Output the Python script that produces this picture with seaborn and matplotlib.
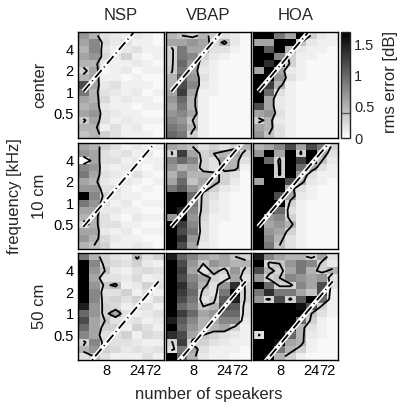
import numpy as np
import seaborn as sns
import matplotlib
matplotlib.use("Agg")
import matplotlib.pyplot as plt

# rms error [dB], rows from top (6.3 kHz) to bottom (250 Hz), columns = speaker setups
nsp_center = np.array([
    [0.7, 0.5, 0.2, 0.15, 0.1, 0.15, 0.1, 0.05],
    [0.6, 0.8, 0.25, 0.15, 0.2, 0.1, 0.1, 0.05],
    [0.5, 0.8, 0.2, 0.1, 0.15, 0.2, 0.1, 0.1],
    [0.6, 0.7, 0.25, 0.15, 0.3, 0.1, 0.05, 0.1],
    [0.5, 0.5, 0.15, 0.1, 0.1, 0.15, 0.1, 0.05],
    [0.3, 0.6, 0.05, 0.1, 0.15, 0.05, 0.1, 0.1],
    [0.5, 0.6, 0.1, 0.1, 0.05, 0.1, 0.05, 0.05],
    [1.2, 0.6, 0.15, 0.2, 0.1, 0.1, 0.1, 0.05],
    [0.9, 0.5, 0.2, 0.15, 0.1, 0.15, 0.05, 0.1],
    [0.6, 0.5, 0.25, 0.1, 0.15, 0.1, 0.1, 0.05],
    [0.5, 0.6, 0.15, 0.1, 0.1, 0.05, 0.1, 0.1],
    [0.6, 0.7, 0.2, 0.15, 0.1, 0.1, 0.05, 0.05],
    [0.35, 0.6, 0.2, 0.1, 0.15, 0.1, 0.1, 0.1],
    [0.5, 0.5, 0.1, 0.2, 0.1, 0.15, 0.05, 0.05],
    [0.4, 0.5, 0.3, 0.2, 0.1, 0.1, 0.1, 0.05],
])
vbap_center = np.array([
    [0.5, 0.4, 0.3, 0.5, 0.3, 0.2, 0.15, 0.05],
    [0.6, 0.6, 0.7, 0.6, 0.25, 0.46, 0.15, 0.05],
    [0.3, 0.9, 0.6, 0.6, 0.2, 0.2, 0.1, 0.05],
    [0.3, 0.9, 0.8, 0.3, 0.15, 0.1, 0.05, 0.05],
    [0.3, 1.0, 0.7, 0.2, 0.1, 0.05, 0.05, 0.05],
    [0.35, 0.9, 0.6, 0.15, 0.1, 0.05, 0.05, 0.05],
    [0.5, 1.1, 0.7, 0.2, 0.1, 0.05, 0.05, 0.05],
    [0.5, 1.2, 0.8, 0.15, 0.1, 0.05, 0.05, 0.05],
    [0.6, 1.3, 0.6, 0.1, 0.1, 0.05, 0.05, 0.05],
    [0.7, 1.0, 0.5, 0.1, 0.05, 0.05, 0.05, 0.05],
    [0.6, 0.9, 0.5, 0.1, 0.05, 0.05, 0.05, 0.05],
    [0.7, 0.8, 0.6, 0.1, 0.05, 0.05, 0.05, 0.05],
    [0.8, 0.7, 0.4, 0.1, 0.05, 0.05, 0.05, 0.05],
    [0.9, 0.8, 0.5, 0.1, 0.05, 0.05, 0.05, 0.05],
    [1.0, 0.9, 0.3, 0.1, 0.05, 0.05, 0.05, 0.05],
])
hoa_center = np.array([
    [1.7, 1.7, 0.9, 0.6, 1.7, 0.3, 0.15, 0.1],
    [0.6, 0.6, 1.7, 1.7, 0.4, 0.15, 0.1, 0.1],
    [1.7, 1.1, 1.7, 0.5, 0.15, 0.1, 0.1, 0.05],
    [1.7, 1.7, 0.8, 0.3, 0.1, 0.1, 0.05, 0.05],
    [1.7, 1.4, 1.7, 0.3, 0.1, 0.05, 0.05, 0.05],
    [0.6, 1.7, 0.6, 0.15, 0.1, 0.05, 0.05, 0.05],
    [1.7, 1.7, 0.7, 0.2, 0.1, 0.05, 0.05, 0.05],
    [1.7, 1.3, 0.5, 0.1, 0.05, 0.05, 0.05, 0.05],
    [1.7, 1.0, 0.2, 0.1, 0.05, 0.05, 0.05, 0.05],
    [1.7, 0.6, 0.15, 0.1, 0.05, 0.05, 0.05, 0.05],
    [1.2, 0.6, 0.15, 0.1, 0.05, 0.05, 0.05, 0.05],
    [0.6, 0.7, 0.2, 0.1, 0.05, 0.05, 0.05, 0.05],
    [0.3, 0.5, 0.15, 0.1, 0.05, 0.05, 0.05, 0.05],
    [0.6, 0.5, 0.2, 0.1, 0.05, 0.05, 0.05, 0.05],
    [0.7, 0.4, 0.2, 0.1, 0.05, 0.05, 0.05, 0.05],
])
nsp_10cm = np.array([
    [0.6, 0.5, 0.3, 0.2, 0.1, 0.15, 0.1, 0.1],
    [0.7, 0.6, 0.2, 0.15, 0.2, 0.1, 0.15, 0.05],
    [0.0, 0.6, 0.2, 0.2, 0.1, 0.15, 0.1, 0.1],
    [0.8, 0.7, 0.15, 0.1, 0.15, 0.1, 0.05, 0.1],
    [0.9, 0.6, 0.2, 0.15, 0.1, 0.2, 0.1, 0.05],
    [0.6, 0.5, 0.15, 0.1, 0.15, 0.1, 0.05, 0.1],
    [0.7, 0.7, 0.2, 0.2, 0.1, 0.05, 0.1, 0.05],
    [1.7, 0.8, 0.3, 0.15, 0.1, 0.1, 0.05, 0.05],
    [0.9, 0.7, 0.2, 0.1, 0.15, 0.05, 0.1, 0.1],
    [0.6, 0.6, 0.15, 0.15, 0.1, 0.1, 0.05, 0.05],
    [0.5, 0.5, 0.2, 0.1, 0.05, 0.15, 0.1, 0.1],
    [0.3, 0.5, 0.2, 0.2, 0.1, 0.1, 0.05, 0.05],
    [0.6, 0.6, 0.15, 0.1, 0.15, 0.05, 0.1, 0.1],
    [0.7, 0.5, 0.25, 0.15, 0.1, 0.1, 0.05, 0.05],
    [0.5, 0.4, 0.3, 0.1, 0.1, 0.15, 0.1, 0.05],
])
vbap_10cm = np.array([
    [0.6, 0.5, 0.4, 0.2, 0.3, 0.2, 0.3, 0.5],
    [0.3, 1.3, 0.6, 0.3, 0.4, 0.5, 0.6, 0.3],
    [0.8, 1.0, 0.8, 0.3, 0.2, 0.6, 0.5, 0.2],
    [0.7, 0.5, 0.6, 0.3, 0.2, 0.5, 0.5, 0.1],
    [0.5, 0.8, 0.5, 0.5, 0.5, 0.3, 0.2, 0.05],
    [0.6, 1.0, 0.4, 0.6, 0.5, 0.3, 0.15, 0.05],
    [0.9, 1.1, 0.7, 0.5, 0.3, 0.15, 0.1, 0.05],
    [1.7, 1.7, 1.0, 0.3, 0.2, 0.1, 0.05, 0.05],
    [1.7, 1.7, 0.9, 0.3, 0.15, 0.1, 0.05, 0.05],
    [1.7, 1.5, 0.8, 0.3, 0.15, 0.1, 0.05, 0.05],
    [0.7, 1.7, 0.7, 0.25, 0.1, 0.1, 0.05, 0.05],
    [1.7, 1.3, 0.8, 0.2, 0.1, 0.05, 0.05, 0.05],
    [1.7, 1.2, 0.9, 0.2, 0.1, 0.05, 0.05, 0.05],
    [1.7, 1.4, 0.7, 0.2, 0.1, 0.05, 0.05, 0.05],
    [1.7, 1.2, 0.6, 0.15, 0.1, 0.05, 0.05, 0.05],
])
hoa_10cm = np.array([
    [0.5, 0.6, 0.8, 1.2, 0.6, 1.2, 0.9, 0.3],
    [0.7, 1.7, 0.6, 1.7, 0.3, 1.7, 0.6, 0.2],
    [1.7, 1.0, 0.3, 1.7, 1.3, 1.7, 0.4, 0.15],
    [1.7, 1.7, 0.3, 1.7, 1.0, 0.6, 0.2, 0.1],
    [1.7, 1.7, 0.3, 1.7, 0.7, 0.2, 0.1, 0.1],
    [0.6, 1.7, 1.7, 1.2, 0.5, 0.15, 0.1, 0.05],
    [1.7, 1.7, 1.7, 0.5, 0.2, 0.1, 0.05, 0.05],
    [1.7, 1.7, 1.2, 0.6, 0.15, 0.1, 0.05, 0.05],
    [1.7, 1.7, 1.7, 0.3, 0.1, 0.05, 0.05, 0.05],
    [1.7, 1.7, 1.0, 0.2, 0.1, 0.05, 0.05, 0.05],
    [1.7, 0.7, 0.8, 0.3, 0.1, 0.05, 0.05, 0.05],
    [1.7, 0.6, 0.7, 0.5, 0.1, 0.05, 0.05, 0.05],
    [1.7, 0.7, 0.6, 0.3, 0.1, 0.05, 0.05, 0.05],
    [1.7, 0.8, 0.5, 0.2, 0.1, 0.05, 0.05, 0.05],
    [1.7, 0.9, 0.4, 0.2, 0.1, 0.05, 0.05, 0.05],
])
nsp_50cm = np.array([
    [0.9, 0.5, 0.3, 0.2, 0.15, 0.45, 0.2, 0.3],
    [1.7, 0.8, 0.3, 0.25, 0.2, 0.3, 0.15, 0.1],
    [1.7, 0.7, 0.4, 0.15, 0.1, 0.2, 0.25, 0.2],
    [1.7, 0.6, 0.2, 0.2, 0.15, 0.25, 0.1, 0.15],
    [1.7, 0.7, 0.35, 0.45, 0.1, 0.15, 0.3, 0.2],
    [1.7, 0.8, 0.2, 0.2, 0.3, 0.1, 0.2, 0.1],
    [1.7, 0.8, 0.25, 0.3, 0.2, 0.3, 0.1, 0.25],
    [1.5, 0.7, 0.3, 0.25, 0.1, 0.2, 0.2, 0.1],
    [1.0, 0.7, 0.3, 0.6, 0.2, 0.1, 0.15, 0.2],
    [1.2, 0.6, 0.4, 0.2, 0.15, 0.2, 0.1, 0.15],
    [1.0, 0.6, 0.3, 0.3, 0.1, 0.3, 0.2, 0.1],
    [0.8, 0.6, 0.2, 0.2, 0.3, 0.1, 0.25, 0.2],
    [0.3, 0.8, 0.25, 0.2, 0.2, 0.15, 0.1, 0.1],
    [0.5, 0.7, 0.3, 0.25, 0.15, 0.2, 0.15, 0.2],
    [0.2, 0.4, 0.2, 0.1, 0.1, 0.1, 0.2, 0.1],
])
vbap_50cm = np.array([
    [1.5, 1.0, 0.8, 0.6, 0.5, 0.6, 0.4, 0.3],
    [1.7, 1.2, 0.7, 0.4, 0.7, 0.6, 0.5, 0.5],
    [1.7, 1.3, 0.6, 0.2, 0.5, 0.3, 0.7, 0.3],
    [1.7, 1.2, 0.8, 0.6, 0.3, 0.2, 0.6, 0.2],
    [1.7, 1.4, 0.9, 0.5, 0.2, 0.7, 1.4, 0.3],
    [1.7, 1.3, 1.0, 0.3, 0.2, 0.9, 1.7, 0.3],
    [1.7, 1.2, 0.9, 0.2, 0.3, 1.1, 1.5, 0.3],
    [1.7, 1.0, 0.8, 0.4, 0.5, 1.2, 1.1, 0.2],
    [1.7, 1.3, 1.0, 0.6, 0.7, 1.0, 1.0, 0.2],
    [1.5, 1.1, 0.8, 0.5, 0.6, 0.8, 0.8, 0.15],
    [1.7, 1.0, 0.7, 0.5, 0.5, 0.6, 0.3, 0.1],
    [1.4, 1.2, 0.6, 0.4, 0.3, 0.2, 0.15, 0.1],
    [0.3, 1.3, 0.3, 0.3, 0.2, 0.15, 0.1, 0.1],
    [0.2, 0.9, 0.6, 0.2, 0.1, 0.1, 0.1, 0.05],
    [1.7, 1.0, 0.5, 0.15, 0.1, 0.1, 0.05, 0.05],
])
hoa_50cm = np.array([
    [1.5, 0.8, 0.6, 0.5, 0.5, 0.3, 0.6, 0.2],
    [1.7, 0.3, 0.4, 0.7, 0.9, 0.8, 0.3, 0.15],
    [1.2, 0.5, 0.3, 0.6, 0.9, 0.5, 0.3, 0.5],
    [0.7, 0.3, 0.4, 0.8, 0.7, 0.6, 0.7, 0.2],
    [1.7, 1.0, 0.3, 0.3, 0.8, 0.6, 1.2, 0.2],
    [0.9, 1.4, 0.9, 0.9, 0.6, 0.4, 1.2, 0.1],
    [0.7, 0.3, 1.2, 0.3, 1.1, 1.7, 1.0, 0.1],
    [1.7, 1.7, 1.7, 1.7, 1.6, 1.2, 0.3, 0.1],
    [1.7, 1.7, 1.7, 1.7, 1.7, 0.4, 0.2, 0.1],
    [1.7, 1.7, 1.7, 1.7, 1.0, 0.3, 0.1, 0.05],
    [1.7, 1.7, 1.7, 1.7, 0.5, 0.2, 0.1, 0.05],
    [0.2, 1.7, 1.7, 1.0, 0.5, 0.15, 0.1, 0.05],
    [1.7, 1.7, 1.6, 0.6, 0.5, 0.1, 0.05, 0.05],
    [1.7, 1.7, 0.9, 0.5, 0.3, 0.1, 0.05, 0.05],
    [1.7, 1.6, 0.5, 0.3, 0.1, 0.05, 0.05, 0.05],
])

methods = ["NSP", "VBAP", "HOA"]
positions = ["center", "10 cm", "50 cm"]
panels = [
    [nsp_center, vbap_center, hoa_center],
    [nsp_10cm, vbap_10cm, hoa_10cm],
    [nsp_50cm, vbap_50cm, hoa_50cm],
]
# aliasing frequency [kHz] at the first and last speaker setup, per listener position
alias_start_khz = [1.02, 0.46, 0.16]
alias_end_khz = [18.3, 8.2, 2.84]
freq_ticks = [0.5, 1, 2, 4]
speaker_ticks = ["8", "24", "72"]
speaker_tick_cols = [2.6, 5.5, 7.0]
contour_level = 0.4

n_rows, n_cols = nsp_center.shape
lowest_band_khz = 0.25


def freq_to_row(f):
    # third-octave bands, heatmap rows counted from the top
    return n_rows - (3 * np.log2(np.asarray(f) / lowest_band_khz) + 0.5)


sns.set_theme(style="white")
plt.rcParams["font.family"] = ["Liberation Sans", "DejaVu Sans"]
plt.rcParams["font.size"] = 10

W = 409.0
fig = plt.figure(figsize=(4.09, 4.09), dpi=100)

col_x = [(78, 164), (166, 251), (253, 338)]
row_y = [(32, 138), (143, 249), (253, 360)]


def box(x0, x1, y0, y1):
    return [x0 / W, 1 - y1 / W, (x1 - x0) / W, (y1 - y0) / W]


for i, row in enumerate(panels):
    for j, data in enumerate(row):
        ax = fig.add_axes(box(*col_x[j], *row_y[i]))
        sns.heatmap(data, ax=ax, cmap="gray_r", vmin=0, vmax=1.7, cbar=False,
                    xticklabels=False, yticklabels=False)
        xc = np.arange(n_cols) + 0.5
        yc = np.arange(n_rows) + 0.5
        ax.contour(xc, yc, data, levels=[contour_level], colors="black", linewidths=1.3)
        ax.set_xlim(0, n_cols)
        ax.set_ylim(n_rows, 0)
        # aliasing frequency line
        lx = [0.5, n_cols - 0.5]
        ly = freq_to_row([alias_start_khz[i], alias_end_khz[i]])
        ax.plot(lx, ly, color="white", lw=3.4, solid_capstyle="butt")
        ax.plot(lx, ly, color="black", lw=1.3, dashes=(5.5, 2, 0.6, 2))
        ax.set_yticks(freq_to_row(freq_ticks))
        ax.set_xticks(speaker_tick_cols)
        ax.tick_params(direction="in", length=2.5, width=0.6, top=True, right=True,
                       left=True, bottom=True, labelsize=10.5, pad=3, colors="black")
        if j == 0:
            ax.set_yticklabels([f"{f:g}" for f in freq_ticks], rotation=0)
        else:
            ax.set_yticklabels([])
        if i == 2:
            ax.set_xticklabels(speaker_ticks)
        else:
            ax.set_xticklabels([])
        for s in ax.spines.values():
            s.set_visible(True)
            s.set_color("black")
            s.set_linewidth(1.0)
        if i == 0:
            ax.set_title(methods[j], fontsize=12, pad=9)

# colorbar
cax = fig.add_axes(box(341, 350, 32, 138))
sm = plt.cm.ScalarMappable(cmap="gray_r", norm=plt.Normalize(0, 1.7))
cb = fig.colorbar(sm, cax=cax, ticks=[0, 0.5, 1, 1.5])
cb.ax.set_yticklabels(["0", "0.5", "1", "1.5"])
cb.ax.tick_params(direction="in", length=2.5, width=0.6, labelsize=10.5, pad=3)
cb.outline.set_linewidth(1.0)
cb.ax.axhline(contour_level, color="0.35", lw=1.0)
fig.text(391 / W, 1 - 82 / W, "rms error [dB]", rotation=90, ha="center", va="center", fontsize=12)

for i, name in enumerate(positions):
    yc = (row_y[i][0] + row_y[i][1]) / 2
    fig.text(40 / W, 1 - yc / W, name, rotation=90, ha="center", va="center", fontsize=12)
fig.text(15 / W, 1 - 196 / W, "frequency [kHz]", rotation=90, ha="center", va="center", fontsize=12)
fig.text(209 / W, 1 - 395 / W, "number of speakers", ha="center", va="center", fontsize=12)

fig.savefig("out.png", dpi=100)
